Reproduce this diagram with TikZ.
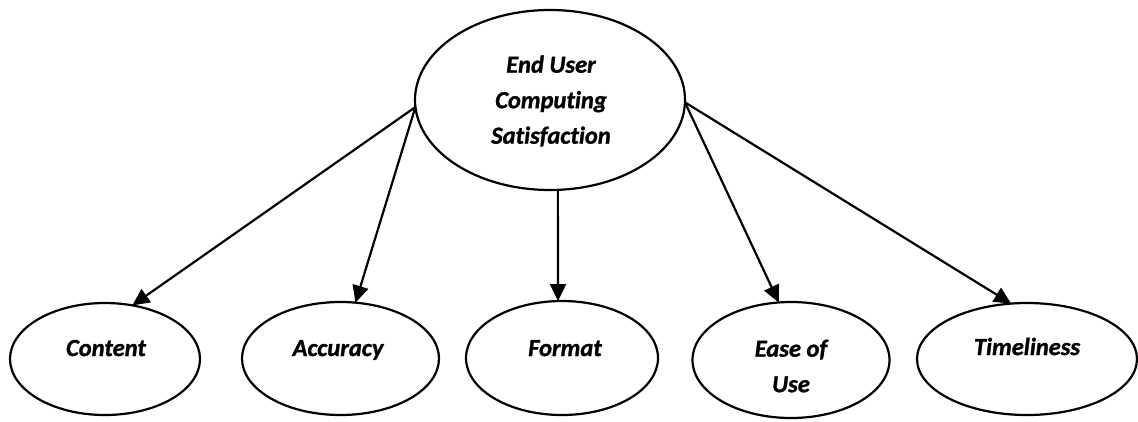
\documentclass[tikz,border=0pt]{standalone}
\usepackage{fontspec}
\setmainfont{Carlito}[Ligatures=NoCommon, BoldItalicFeatures={FakeBold=1.2}]
\usetikzlibrary{arrows.meta,shapes.geometric}

\tikzset{
  oval/.style={draw=black, line width=2.2pt, ellipse, inner sep=0pt, outer sep=0pt},
  label text/.style={font=\fontsize{24.5}{35.5}\selectfont\bfseries\itshape, align=center, inner sep=0pt},
  link/.style={line width=2.2pt, -{Triangle[length=17pt,width=16pt]}}
}

\begin{document}
\begin{tikzpicture}[x=1pt, y=-1pt]
  \useasboundingbox[fill=white] (0,0) rectangle (1138,421);

  % central construct
  \node[oval, minimum width=270pt, minimum height=180pt] (ecs) at (550,100) {};
  \node[label text, anchor=center] (ecs-t) at (551,101) {End User\\Computing\\Satisfaction};

  % dimensions
  \node[oval, minimum width=190pt, minimum height=112pt] (content) at (105,359) {};
  \node[oval, minimum width=197pt, minimum height=113pt] (accuracy) at (340.5,358.5) {};
  \node[oval, minimum width=192pt, minimum height=114pt] (format) at (562,358) {};
  \node[oval, minimum width=197pt, minimum height=116pt] (ease) at (791,360) {};
  \node[oval, minimum width=220pt, minimum height=112pt] (timeliness) at (1027,359) {};

  \node[label text, anchor=base] (content-t) at (106,356) {Content};
  \node[label text, anchor=base] (accuracy-t) at (338,356) {Accuracy};
  \node[label text, anchor=base] (format-t) at (565,356) {Format};
  \node[label text, anchor=center] (ease-t) at (791,366) {Ease of\\Use};
  \node[label text, anchor=base] (timeliness-t) at (1027,355) {Timeliness};

  % links from the central construct
  \draw[link] (ecs.183.4) -- (content.63.4);
  \draw[link] (ecs.183.4) -- (accuracy.75.4);
  \draw[link] (ecs.275) -- (format.94);
  \draw[link] (ecs.-1) -- (ease.102);
  \draw[link] (ecs.-1) -- (timeliness.106);
\end{tikzpicture}
\end{document}
